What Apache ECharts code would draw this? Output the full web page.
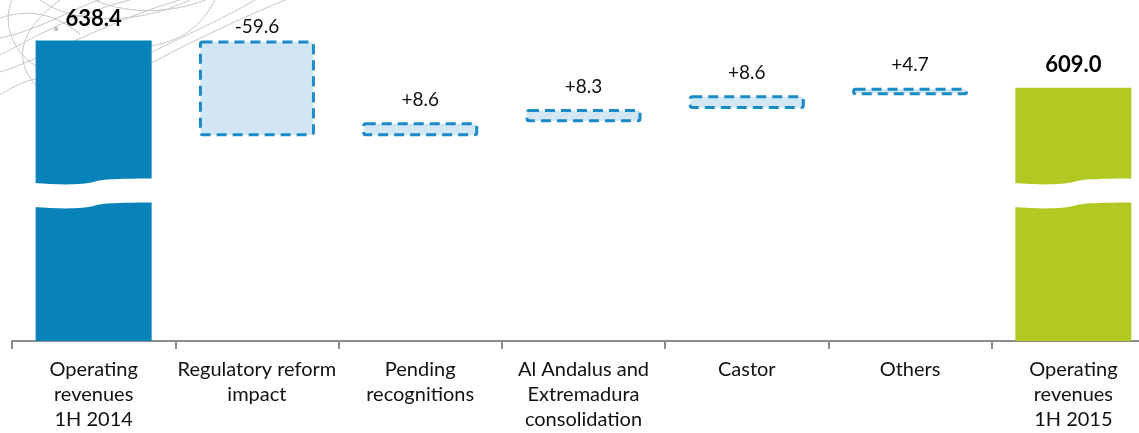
<!DOCTYPE html>
<html>
<head>
<meta charset="utf-8">
<script src="https://cdn.jsdelivr.net/npm/echarts@6/dist/echarts.min.js"></script>
<style>
  html, body { margin: 0; padding: 0; background: #ffffff; }
  #chart { width: 1139px; height: 433px; }
</style>
</head>
<body>
<div id="chart"></div>
<script>
// Operating revenues bridge, 1H 2014 -> 1H 2015 (EUR m)
const categories = [
  'Operating\nrevenues\n1H 2014',
  'Regulatory reform\nimpact',
  'Pending\nrecognitions',
  'Al Andalus and\nExtremadura\nconsolidation',
  'Castor',
  'Others',
  'Operating\nrevenues\n1H 2015'
];
const startValue = 638.4;
const deltas = [-59.6, 8.6, 8.3, 8.6, 4.7];
const endValue = 609.0;
// value at which the broken-axis gap is drawn across the total bars
const breakValue = 550.8;

const BLUE = '#0783ba';
const GREEN = '#b2c923';
const DASH = '#1a8bc6';
const BOX = '#d2e7f3';
const BAR_W = 116;
const FONT = 'Lato';

// floating bar bases and heights
const baseData = [];
const deltaData = [];
baseData.push({ value: startValue, itemStyle: { color: BLUE },
  label: { show: true, fontWeight: 'bold', fontSize: 22, distance: 11 } });
deltaData.push('-');
let running = startValue;
deltas.forEach(function (d, i) {
  const lo = d < 0 ? running + d : running;
  baseData.push({ value: lo, itemStyle: { color: 'rgba(0,0,0,0)' } });
  deltaData.push({ value: Math.abs(d), signed: d,
    label: { distance: i === 0 ? 4 : 13 } });
  running += d;
});
baseData.push({ value: endValue, itemStyle: { color: GREEN },
  label: { show: true, fontWeight: 'bold', fontSize: 22, distance: 12 } });
deltaData.push('-');

const breakData = [[0, breakValue], [categories.length - 1, breakValue]];

// thin decorative swirls in the upper-left corner
const swirls = [
  [0, 38, 40, 30, 80, 5, 100, 0],
  [0, 55, 30, 40, 70, 15, 130, 0],
  [0, 72, 40, 60, 110, 20, 180, 0],
  [0, 95, 15, 85, 28, 80, 40, 78],
  [0, 18, 30, 8, 55, 14, 80, 34],
  [130, 75, 170, 52, 225, 25, 285, 0],
  [140, 58, 180, 38, 230, 15, 255, 0],
  [150, 46, 190, 40, 205, 18, 215, 0],
  [40, 0, 70, 22, 130, 28, 190, 0],
  [95, 0, 120, 12, 165, 16, 205, 0],
  [12, 0, 0, 28, 18, 58, 40, 68],
  [60, 0, 20, 30, 10, 60, 40, 90]
];
const graphics = swirls.map(function (c) {
  return {
    type: 'bezierCurve', z: 0, silent: true,
    shape: { x1: c[0], y1: c[1], cpx1: c[2], cpy1: c[3], cpx2: c[4], cpy2: c[5], x2: c[6], y2: c[7] },
    style: { stroke: '#c6c6c6', lineWidth: 1, fill: null }
  };
});
graphics.push({ type: 'rect', z: 0, silent: true,
  shape: { x: 54, y: 27, width: 4, height: 4 }, style: { fill: '#c4c4c4' } });

const chart = echarts.init(document.getElementById('chart'), null, { renderer: 'canvas' });
chart.setOption({
  animation: false,
  backgroundColor: '#ffffff',
  graphic: graphics,
  grid: { left: 12, top: 6, bottom: 92, width: 1143, outerBoundsMode: 'none', containLabel: false },
  xAxis: {
    type: 'category',
    data: categories,
    boundaryGap: true,
    axisLine: { lineStyle: { color: '#8c8c8c', width: 2 } },
    axisTick: { show: true, interval: 0, length: 8, lineStyle: { color: '#8c8c8c', width: 2 } },
    axisLabel: {
      interval: 0, margin: 16, color: '#111111',
      fontFamily: FONT, fontSize: 20, lineHeight: 25
    }
  },
  yAxis: {
    type: 'value', min: 451, max: 660, show: false,
    splitLine: { show: false }
  },
  series: [
    {
      type: 'bar', stack: 'bridge', barWidth: BAR_W, z: 2,
      data: baseData,
      label: {
        show: false, position: 'top', color: '#000000',
        fontFamily: FONT,
        formatter: function (p) { return p.value.toFixed(1); }
      }
    },
    {
      type: 'bar', stack: 'bridge', barWidth: BAR_W, z: 3,
      data: deltaData,
      itemStyle: {
        color: BOX, borderColor: DASH, borderWidth: 3,
        borderType: [10, 6], borderRadius: 2
      },
      label: {
        show: true, position: 'top', color: '#111111',
        fontFamily: FONT, fontSize: 19,
        formatter: function (p) {
          const v = p.data.signed;
          return (v > 0 ? '+' : '') + v.toFixed(1);
        }
      }
    },
    {
      // white wavy gap marking the broken value axis on the total bars
      type: 'custom', z: 5, silent: true,
      data: breakData,
      renderItem: function (params, api) {
        const p = api.coord([api.value(0), api.value(1)]);
        const w = BAR_W + 4;
        const L = p[0] - w / 2, y = p[1];
        const X = function (t) { return (L + w * t).toFixed(1); };
        const g = 24;
        const d =
          'M' + X(0) + ',' + (y + 2) +
          ' C' + X(0.22) + ',' + (y + 4) + ' ' + X(0.4) + ',' + (y + 4) + ' ' + X(0.5) + ',' + (y + 1) +
          ' C' + X(0.56) + ',' + (y - 2) + ' ' + X(0.75) + ',' + (y - 2.5) + ' ' + X(1) + ',' + (y - 2.5) +
          ' L' + X(1) + ',' + (y - 2.5 + g) +
          ' C' + X(0.75) + ',' + (y - 2.5 + g) + ' ' + X(0.56) + ',' + (y - 2 + g) + ' ' + X(0.5) + ',' + (y + 1 + g) +
          ' C' + X(0.4) + ',' + (y + 4 + g) + ' ' + X(0.22) + ',' + (y + 4 + g) + ' ' + X(0) + ',' + (y + 2 + g) +
          ' Z';
        return { type: 'path', shape: { pathData: d }, style: { fill: '#ffffff', stroke: null } };
      }
    }
  ]
});
</script>
</body>
</html>
